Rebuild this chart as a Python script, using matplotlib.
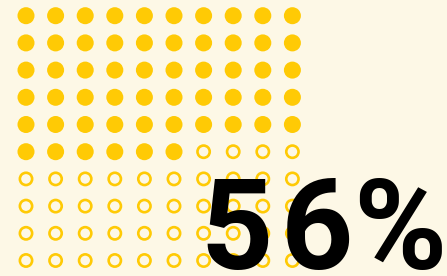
import matplotlib
matplotlib.use("Agg")
import matplotlib.pyplot as plt
import numpy as np

# Data
total = 100
filled = 56
n_cols = 10
label = "56%"

bg = "#FDF8E6"
yellow = "#FFCA05"

fig = plt.figure(figsize=(4.47, 2.76), dpi=100, facecolor=bg)
ax = fig.add_axes([0, 0, 1, 1])
ax.set_facecolor(bg)

idx = np.arange(total)
cols = idx % n_cols
rows = idx // n_cols
is_filled = idx < filled

ax.scatter(cols[is_filled], rows[is_filled], s=150, color=yellow, edgecolors="none", zorder=2)
ax.scatter(cols[~is_filled], rows[~is_filled], s=78, facecolors="none",
           edgecolors=yellow, linewidths=1.9, zorder=2)

ax.set_xlim(-26 / 29.6, (447 - 26) / 29.6)
ax.set_ylim((276 - 15.7) / 27.2, -15.7 / 27.2)
ax.axis("off")

# big label, drawn glyph by glyph with tight tracking
char_left_px = [200, 281, 353]
for ch, xp in zip(label, char_left_px):
    fig.text(xp / 447, 7 / 276, ch, ha="left", va="baseline",
             fontsize=91, fontweight="bold", family="Roboto",
             color="black", zorder=5)

fig.savefig("out.png", dpi=100, facecolor=bg)
